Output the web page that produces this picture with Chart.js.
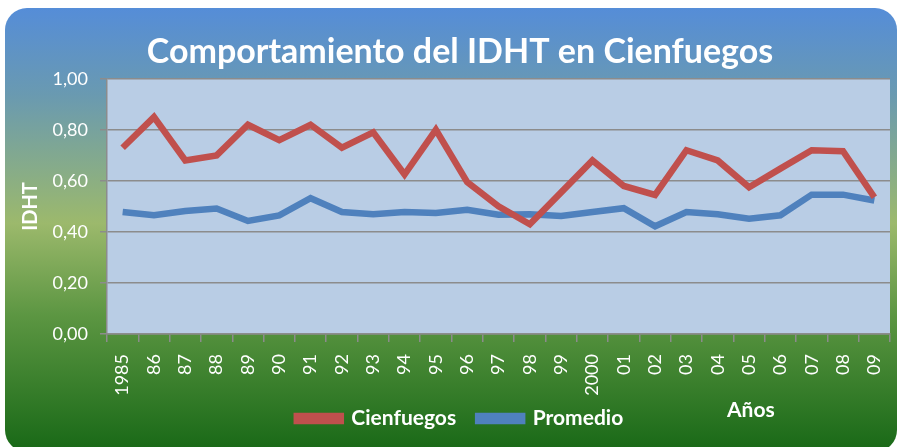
<!DOCTYPE html>
<html>
<head>
<meta charset="utf-8">
<script src="https://cdn.jsdelivr.net/npm/chart.js@4.4.1/dist/chart.umd.min.js"></script>
<style>
  html, body { margin: 0; padding: 0; background: #ffffff; }
  #wrap { width: 901px; height: 447px; }
</style>
</head>
<body>
<div id="wrap"><canvas id="lineChart" width="901" height="447"></canvas></div>
<script>
var years = ["1985", "86", "87", "88", "89", "90", "91", "92", "93", "94", "95", "96", "97",
             "98", "99", "2000", "01", "02", "03", "04", "05", "06", "07", "08", "09"];
var cienfuegos = [0.73, 0.85, 0.68, 0.70, 0.82, 0.76, 0.82, 0.73, 0.79, 0.625, 0.80, 0.595, 0.50,
                  0.43, 0.555, 0.68, 0.58, 0.545, 0.72, 0.68, 0.575, 0.648, 0.72, 0.716, 0.536];
var promedio = [0.478, 0.465, 0.482, 0.492, 0.443, 0.465, 0.532, 0.478, 0.469, 0.478, 0.474, 0.487, 0.467,
                0.469, 0.462, 0.478, 0.493, 0.422, 0.478, 0.469, 0.452, 0.465, 0.546, 0.546, 0.523];
var yTicks = [0, 0.2, 0.4, 0.6, 0.8, 1.0];

var fontName = "Lato, 'Open Sans', sans-serif";

// fondo degradado y area de trazado
var backdrop = {
  id: 'backdrop',
  beforeDraw: function(chart) {
    var c = chart.ctx;
    var x0 = 5, y0 = 8, x1 = 897, y1 = 452, r = 22;
    var g = c.createLinearGradient(0, y0, 0, 447);
    g.addColorStop(0, '#558dd8');
    g.addColorStop(0.2, '#6a9ab0');
    g.addColorStop(0.49, '#9cb96c');
    g.addColorStop(0.7, '#5c9642');
    g.addColorStop(1, '#1a6a18');
    c.save();
    c.fillStyle = g;
    c.beginPath();
    c.moveTo(x0 + r, y0);
    c.lineTo(x1 - r, y0);
    c.arcTo(x1, y0, x1, y0 + r, r);
    c.lineTo(x1, y1 - r);
    c.arcTo(x1, y1, x1 - r, y1, r);
    c.lineTo(x0 + r, y1);
    c.arcTo(x0, y1, x0, y1 - r, r);
    c.lineTo(x0, y0 + r);
    c.arcTo(x0, y0, x0 + r, y0, r);
    c.closePath();
    c.fill();
    var a = chart.chartArea;
    c.fillStyle = '#b9cde5';
    c.fillRect(a.left, a.top, a.right - a.left, a.bottom - a.top);
    c.restore();
  },
  afterDraw: function(chart) {
    var c = chart.ctx;
    var lg = chart.legend;
    c.save();
    c.fillStyle = '#ffffff';
    c.font = "bold 21px " + fontName;
    c.textAlign = 'left';
    c.textBaseline = 'middle';
    c.fillText('Años', 727, lg.top + lg.height / 2 - 2);
    c.restore();
  }
};

var ctxL = document.getElementById("lineChart").getContext('2d');
var myLineChart = new Chart(ctxL, {
  type: 'line',
  data: {
    labels: years,
    datasets: [{
        label: "Cienfuegos",
        data: cienfuegos,
        borderColor: '#c0504d',
        backgroundColor: '#c0504d',
        borderWidth: 6.5,
        pointRadius: 0,
        tension: 0
      },
      {
        label: "Promedio",
        data: promedio,
        borderColor: '#4f81bd',
        backgroundColor: '#4f81bd',
        borderWidth: 6.5,
        pointRadius: 0,
        tension: 0
      }
    ]
  },
  options: {
    responsive: false,
    animation: false,
    layout: { padding: { left: 30, right: 11, top: 6, bottom: 8 } },
    plugins: {
      title: {
        display: true,
        text: 'Comportamiento del IDHT en Cienfuegos',
        color: '#ffffff',
        font: { family: fontName, size: 34, weight: 'bold' },
        padding: { top: 26, bottom: 6 }
      },
      legend: {
        position: 'bottom',
        labels: {
          color: '#ffffff',
          font: { family: fontName, size: 21, weight: 'bold' },
          boxWidth: 44,
          boxHeight: 5,
          padding: 22
        }
      },
      tooltip: { enabled: false }
    },
    scales: {
      y: {
        min: 0,
        max: 1,
        afterBuildTicks: function(scale) {
          scale.ticks = yTicks.map(function(v) { return { value: v }; });
        },
        afterFit: function(scale) {
          scale.width = 77;
          scale.paddingTop = 0;
          scale.paddingBottom = 0;
        },
        ticks: {
          color: '#ffffff',
          font: { family: fontName, size: 18 },
          padding: 12,
          callback: function(v) { return v.toFixed(2).replace('.', ','); }
        },
        grid: { color: '#8c8c8c', lineWidth: 1.5, tickLength: 7 },
        border: { color: '#8c8c8c', width: 1.5 },
        title: {
          display: true,
          text: 'IDHT',
          color: '#ffffff',
          font: { family: fontName, size: 20, weight: 'bold' },
          padding: { top: -11, bottom: 0 }
        }
      },
      x: {
        offset: true,
        afterFit: function(scale) {
          scale.height = 52;
          scale.paddingLeft = 0;
          scale.paddingRight = 0;
          // las etiquetas largas bajan hasta la leyenda, sin recortarlas
          scale._computeLabelArea = function() { return null; };
        },
        ticks: {
          color: '#ffffff',
          font: { family: fontName, size: 18 },
          minRotation: 90,
          maxRotation: 90,
          autoSkip: false,
          padding: 12
        },
        grid: { drawOnChartArea: false, offset: true, color: '#8c8c8c', lineWidth: 1.5, tickLength: 8 },
        border: { color: '#8c8c8c', width: 1.5 }
      }
    }
  },
  plugins: [backdrop]
});
</script>
</body>
</html>
